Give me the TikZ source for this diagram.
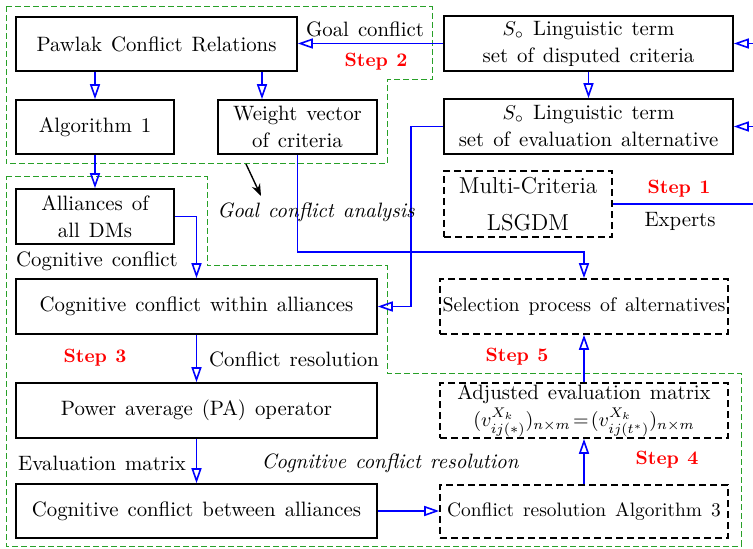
\documentclass[tikz,border=0pt]{standalone}
\usepackage{fontspec}
\usetikzlibrary{arrows.meta}
\definecolor{dgreen}{RGB}{40,160,40}
\newcommand{\bodyfont}[1]{\fontsize{#1}{13.5}\selectfont\spaceskip=4.5pt plus 1pt minus 1pt\relax}
\newcommand{\stepfont}{\fontsize{9.6}{12}\selectfont\bfseries\spaceskip=4.2pt plus 1pt minus 1pt\relax}
\begin{document}
\begin{tikzpicture}[x=0.5pt,y=-0.5pt,
  font=\bodyfont{10.4},
  box/.style={draw, line width=0.8pt, inner sep=0pt, align=center},
  dbox/.style={box, dash pattern=on 3.5pt off 2pt},
  conn/.style={draw=blue, line width=0.8pt, -{Triangle[open,length=7.5pt,width=5pt]}},
  plainconn/.style={draw=blue, line width=0.8pt},
  region/.style={draw=dgreen, line width=0.5pt, dash pattern=on 3pt off 1.5pt},
  steplbl/.style={text=red, inner sep=0pt, font=\stepfont},
  lbl/.style={inner sep=0pt},
]
\useasboundingbox (0,0) rectangle (753,549);

% dashed green regions
\draw[region] (6,7) -- (432,7) -- (432,80) -- (387,80) -- (387,164) -- (6,164) -- cycle;
\draw[region] (6,177) -- (207,177) -- (207,266) -- (387,266) -- (387,373) -- (741,373) -- (741,546) -- (6,546) -- cycle;

% boxes
\node[box, minimum width=140.5pt, minimum height=27pt] (pawlak) at (156.5,44) {Pawlak Conflict Relations};
\node[box, minimum width=79pt, minimum height=27pt] (alg1) at (95,127) {Algorithm 1};
\node[box, minimum width=79.5pt, minimum height=27pt] (weight) at (297.5,127) {Weight vector\\of criteria};
\node[box, minimum width=144.5pt, minimum height=27.5pt] (sdisp) at (588.5,43.5) {$S_\circ$ Linguistic term\\set of disputed criteria};
\node[box, minimum width=144.5pt, minimum height=27.5pt] (seval) at (588.5,126.5) {$S_\circ$ Linguistic term\\set of evaluation alternative};
\node[box, minimum width=79pt, minimum height=27.5pt] (alli) at (95,216.5) {Alliances of\\all DMs};
\node[box, minimum width=180.5pt, minimum height=27.5pt] (within) at (196.5,306.5) {Cognitive conflict within alliances};
\node[box, minimum width=180.5pt, minimum height=27.5pt] (power) at (196.5,410.5) {Power average (PA) operator};
\node[box, minimum width=180.5pt, minimum height=27pt] (between) at (196.5,511) {Cognitive conflict between alliances};
\node[dbox, minimum width=84pt, minimum height=33pt, font=\fontsize{11.5}{14}\selectfont] (multi) at (528,204) {Multi-Criteria\\[4.5pt]LSGDM};
\node[dbox, minimum width=144pt, minimum height=27.5pt, font=\bodyfont{9.9}] (sel) at (584,306.5) {Selection process of alternatives};
\node[dbox, minimum width=144pt, minimum height=27.5pt] (adj) at (584,410.5) {Adjusted evaluation matrix\\$(v^{X_k}_{ij(*)})_{n\times m}\!=\!(v^{X_k}_{ij(t^*)})_{n\times m}$};
\node[dbox, minimum width=144pt, minimum height=26.5pt, font=\bodyfont{9.7}] (alg3) at (584,511.5) {Conflict resolution Algorithm 3};

% helper coordinates
\coordinate (rin1) at (753,43.5);
\coordinate (rin2) at (753,126.5);
\coordinate (rout) at (753,204);
\coordinate (pw) at (262,0);
\coordinate (kx) at (411,0);
\coordinate (hy) at (0,252);
\coordinate (ga1) at (246,164);
\coordinate (ga2) at (261,196);

% connectors
\draw[conn] (rin1) -- (sdisp.east);
\draw[conn] (rin2) -- (seval.east);
\draw[conn] (sdisp.west) -- (sdisp.west -| pawlak.east);
\draw[conn] (pawlak.south -| alg1.north) -- (alg1.north);
\draw[conn] (pawlak.south -| pw) -- (weight.north -| pw);
\draw[conn] (sdisp.south) -- (seval.north);
\draw[conn] (alg1.south) -- (alli.north);
\draw[conn] (alli.east) -| (within.north);
\draw[conn] (seval.west) -- (seval.west -| kx) |- (within.east);
\draw[conn] (weight.south) -- (weight.south |- hy) -| (sel.north);
\draw[plainconn] (multi.east) -- (rout);
\draw[conn] (within.south) -- (power.north);
\draw[conn] (power.south) -- (between.north);
\draw[conn] (between.east) -- (between.east -| alg3.west);
\draw[conn] (alg3.north) -- (adj.south);
\draw[conn] (adj.north) -- (sel.south);
\draw[line width=0.7pt, -{Stealth[length=6pt,width=4.5pt]}] (ga1) -- (ga2);

% labels
\node[lbl] (lgoal) at (365,29) {Goal conflict};
\node[steplbl] (s2) at (376,62) {Step 2};
\node[lbl] (lgca) at (316,212) {\itshape Goal conflict analysis};
\node[lbl] (lcog) at (97,261) {Cognitive conflict};
\node[steplbl] (s3) at (95,358) {Step 3};
\node[lbl] (lres) at (294,359) {Conflict resolution};
\node[lbl] (leval) at (102,463) {Evaluation matrix};
\node[lbl] (lccr) at (390,463) {\itshape Cognitive conflict resolution};
\node[steplbl] (s4) at (667,460) {Step 4};
\node[steplbl] (s5) at (517,357) {Step 5};
\node[steplbl] (s1) at (679,189) {Step 1};
\node[lbl] (lexp) at (680,221) {Experts};
\end{tikzpicture}
\end{document}
